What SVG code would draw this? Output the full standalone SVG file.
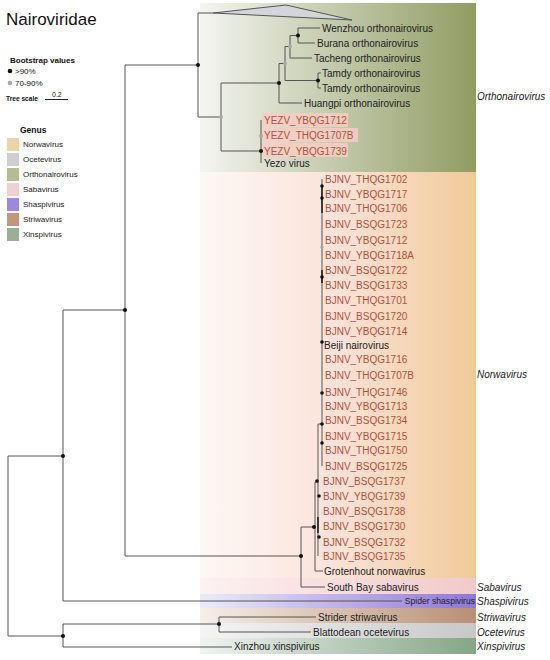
<svg xmlns="http://www.w3.org/2000/svg" width="550" height="660" viewBox="0 0 550 660">
<defs>
<linearGradient id="gOrtho" x1="0" y1="0" x2="1" y2="0"><stop offset="0" stop-color="#f4f5f1"/><stop offset="1" stop-color="#909c62"/></linearGradient>
<linearGradient id="gNorwa" x1="0" y1="0" x2="1" y2="0"><stop offset="0" stop-color="#fdf8f5"/><stop offset="0.5" stop-color="#fbe2d8"/><stop offset="1" stop-color="#efca98"/></linearGradient>
<linearGradient id="gSaba" x1="0" y1="0" x2="1" y2="0"><stop offset="0" stop-color="#fdf1f1"/><stop offset="1" stop-color="#f1c9cb"/></linearGradient>
<linearGradient id="gShas" x1="0" y1="0" x2="1" y2="0"><stop offset="0" stop-color="#ecebfa"/><stop offset="1" stop-color="#8e78d8"/></linearGradient>
<linearGradient id="gStri" x1="0" y1="0" x2="1" y2="0"><stop offset="0" stop-color="#f6efea"/><stop offset="1" stop-color="#b98f74"/></linearGradient>
<linearGradient id="gOcet" x1="0" y1="0" x2="1" y2="0"><stop offset="0" stop-color="#f4f4f4"/><stop offset="1" stop-color="#c8c8c8"/></linearGradient>
<linearGradient id="gXins" x1="0" y1="0" x2="1" y2="0"><stop offset="0" stop-color="#f0f4f0"/><stop offset="1" stop-color="#84a686"/></linearGradient>
<style>
text{font-family:"Liberation Sans",Arial,sans-serif;}
.lf{font-size:10px;fill:#222;}
.lr{font-size:10px;fill:#b0523c;}
.gn{font-size:10px;font-style:italic;fill:#222;}
.lg{font-size:8px;fill:#222;}
.lb{font-size:8px;font-weight:bold;fill:#111;}
.br{fill:none;stroke:#555;stroke-width:1;}
.bd{fill:#111;}
.gd{fill:#aaa;}
.hl{fill:#f6cdc4;opacity:0.85;}
</style>
</defs>
<rect width="550" height="660" fill="#fff"/>
<g id="bands">
<rect x="200" y="3" width="276" height="169" fill="url(#gOrtho)"/>
<rect x="200" y="172" width="276" height="406" fill="url(#gNorwa)"/>
<rect x="200" y="578" width="276" height="16" fill="url(#gSaba)"/>
<rect x="200" y="594" width="276" height="14" fill="url(#gShas)"/>
<rect x="200" y="608" width="276" height="15" fill="url(#gStri)"/>
<rect x="200" y="623" width="276" height="15" fill="url(#gOcet)"/>
<rect x="200" y="638" width="276" height="16" fill="url(#gXins)"/>
<rect class="hl" x="262" y="113" width="86" height="14"/>
<rect class="hl" x="262" y="128" width="96" height="14"/>
<rect class="hl" x="262" y="143" width="86" height="14"/>
</g>
<g id="legend">
<text x="6" y="25" style="font-size:17px;fill:#111">Nairoviridae</text>
<text class="lb" x="10" y="63">Bootstrap values</text>
<circle class="bd" cx="10" cy="71" r="2.3"/><text class="lg" x="15" y="74">&gt;90%</text>
<circle class="gd" cx="10" cy="83" r="2.3"/><text class="lg" x="15" y="86">70-90%</text>
<text class="lb" x="6" y="101" style="font-size:6.6px">Tree scale</text>
<text class="lg" x="52" y="97" style="font-size:7px">0.2</text>
<line x1="45" y1="99.5" x2="68" y2="99.5" stroke="#222" stroke-width="1"/>
<text class="lb" x="20" y="133" style="font-size:8.5px">Genus</text>
<rect x="7" y="138" width="12" height="13" fill="#ecd3a8"/><text class="lg" x="23" y="147">Norwavirus</text>
<rect x="7" y="153" width="12" height="13" fill="#cfcfcf"/><text class="lg" x="23" y="162">Ocetevirus</text>
<rect x="7" y="168" width="12" height="13" fill="#b5bd8e"/><text class="lg" x="23" y="177">Orthonairovirus</text>
<rect x="7" y="183" width="12" height="13" fill="#f0d0d0"/><text class="lg" x="23" y="192">Sabavirus</text>
<rect x="7" y="198" width="12" height="13" fill="#9d88e0"/><text class="lg" x="23" y="207">Shaspivirus</text>
<rect x="7" y="213" width="12" height="13" fill="#c3977c"/><text class="lg" x="23" y="222">Striwavirus</text>
<rect x="7" y="228" width="12" height="13" fill="#98b096"/><text class="lg" x="23" y="237">Xinspivirus</text>
</g>
<g id="connectors">
<path class="br" d="M8,456 V636 M8,456 H63 M8,636 H63"/>
<path class="br" d="M63,310 V601 M63,310 H125 M63,601 H402"/>
<path class="br" d="M63,624 V647 M63,624 H219 M63,647 H232"/>
<path class="br" d="M219,617 V632 M219,617 H316 M219,632 H311"/>
<path class="br" d="M125,65 V556 M125,65 H198 M125,556 H301"/>
<path class="br" d="M198,13 V117 M198,13 H213 M198,117 H221"/>
<polygon points="213,13 286,5 352,20" fill="#d4d5d8" stroke="#555" stroke-width="1"/>
<path class="br" d="M221,83 V151 M221,83 H279 M221,151 H261"/>
<path class="br" d="M279,63.5 V103 M279,63.5 H285 M279,103 H302"/>
<path class="br" d="M285,46.5 V80.5 M285,46.5 H290 M285,80.5 H318"/>
<path class="br" d="M290,35.5 V58 M290,35.5 H298 M290,58 H312"/>
<path class="br" d="M298,28 V43 M298,28 H320 M298,43 H315"/>
<path class="br" d="M318,73 V88 M318,73 H321 M318,88 H321"/>
<path class="br" d="M261,120 V163"/>
<path class="br" d="M301,527 V587 M301,527 H315 M301,587 H325"/>
<path class="br" d="M315,482 V571 M315,482 H318 M315,571 H323"/>
<path class="br" d="M318,424 V556 M318,424 H322"/>
<path class="br" d="M322,179 V466"/>
<path d="M322,187 V213 M322,270 V283 M318,517 V533" stroke="#222" stroke-width="1.6" fill="none"/>
<circle class="bd" cx="63" cy="456" r="2"/>
<circle class="bd" cx="63" cy="636" r="2"/>
<circle class="bd" cx="125" cy="310" r="2"/>
<circle class="bd" cx="219" cy="624" r="2"/>
<circle class="bd" cx="198" cy="65" r="2"/>
<circle class="gd" cx="221" cy="117" r="2"/>
<circle class="bd" cx="279" cy="83" r="2"/>
<circle class="gd" cx="285" cy="63.5" r="2"/>
<circle class="gd" cx="290" cy="46.5" r="2"/>
<circle class="bd" cx="298" cy="35.5" r="2"/>
<circle class="bd" cx="318" cy="80.5" r="2"/>
<circle class="gd" cx="261" cy="136" r="2"/>
<circle class="bd" cx="261" cy="151" r="2"/>
<circle class="bd" cx="301" cy="556" r="2"/>
<circle class="bd" cx="314" cy="527" r="2"/>
<circle class="bd" cx="322" cy="186" r="1.8"/>
<circle class="bd" cx="322" cy="198" r="1.8"/>
<circle class="gd" cx="322" cy="247" r="1.8"/>
<circle class="bd" cx="322" cy="277" r="1.8"/>
<circle class="bd" cx="322" cy="342" r="1.8"/>
<circle class="bd" cx="322" cy="393" r="1.8"/>
<circle class="bd" cx="322" cy="424" r="1.8"/>
<circle class="bd" cx="322" cy="443" r="1.8"/>
<circle class="bd" cx="317" cy="481" r="1.8"/>
<circle class="bd" cx="319" cy="496" r="1.8"/>
<circle class="bd" cx="319" cy="537" r="1.8"/>
</g>
<g id="orthonairovirus">
<text class="lf" x="322" y="31.5">Wenzhou orthonairovirus</text>
<text class="lf" x="317" y="46.5">Burana orthonairovirus</text>
<text class="lf" x="314" y="61.5">Tacheng orthonairovirus</text>
<text class="lf" x="322" y="76.5">Tamdy orthonairovirus</text>
<text class="lf" x="322" y="91.5">Tamdy orthonairovirus</text>
<text class="lf" x="304" y="106.5">Huangpi orthonairovirus</text>
<text class="lr" x="264" y="123.5">YEZV_YBQG1712</text>
<text class="lr" x="264" y="138.5">YEZV_THQG1707B</text>
<text class="lr" x="264" y="154.5">YEZV_YBQG1739</text>
<text class="lf" x="264" y="166.5">Yezo virus</text>
<text class="gn" x="477" y="100">Orthonairovirus</text>
</g>
<g id="norwavirus">
<text class="lr" x="325" y="182.5">BJNV_THQG1702</text>
<text class="lr" x="325" y="197.5">BJNV_YBQG1717</text>
<text class="lr" x="325" y="211.5">BJNV_THQG1706</text>
<text class="lr" x="325" y="227.5">BJNV_BSQG1723</text>
<text class="lr" x="325" y="243.5">BJNV_YBQG1712</text>
<text class="lr" x="325" y="258.5">BJNV_YBQG1718A</text>
<text class="lr" x="325" y="273.5">BJNV_BSQG1722</text>
<text class="lr" x="325" y="288.5">BJNV_BSQG1733</text>
<text class="lr" x="325" y="303.5">BJNV_THQG1701</text>
<text class="lr" x="325" y="319.5">BJNV_BSQG1720</text>
<text class="lr" x="325" y="334.5">BJNV_YBQG1714</text>
<text class="lf" x="324" y="348.5">Beiji nairovirus</text>
<text class="lr" x="325" y="362.5">BJNV_YBQG1716</text>
<text class="lr" x="325" y="378.5">BJNV_THQG1707B</text>
<text class="lr" x="325" y="395.5">BJNV_THQG1746</text>
<text class="lr" x="325" y="409.5">BJNV_YBQG1713</text>
<text class="lr" x="325" y="423.5">BJNV_BSQG1734</text>
<text class="lr" x="325" y="439.5">BJNV_YBQG1715</text>
<text class="lr" x="325" y="453.5">BJNV_THQG1750</text>
<text class="lr" x="325" y="469.5">BJNV_BSQG1725</text>
<text class="lr" x="323" y="484.5">BJNV_BSQG1737</text>
<text class="lr" x="323" y="499.5">BJNV_YBQG1739</text>
<text class="lr" x="323" y="514.5">BJNV_BSQG1738</text>
<text class="lr" x="323" y="529.5">BJNV_BSQG1730</text>
<text class="lr" x="323" y="545.5">BJNV_BSQG1732</text>
<text class="lr" x="323" y="559.5">BJNV_BSQG1735</text>
<text class="lf" x="324" y="574.5">Grotenhout norwavirus</text>
<text class="gn" x="477" y="378">Norwavirus</text>
</g>
<g id="sabavirus">
<text class="lf" x="327" y="590.5">South Bay sabavirus</text>
<text class="gn" x="477" y="590.5">Sabavirus</text>
</g>
<g id="shaspivirus">
<text class="lf" x="475" y="604" text-anchor="end" style="font-size:8.6px">Spider shaspivirus</text>
<text class="gn" x="477" y="604.5">Shaspivirus</text>
</g>
<g id="striwavirus">
<text class="lf" x="318" y="620.5">Strider striwavirus</text>
<text class="gn" x="477" y="620.5">Striwavirus</text>
</g>
<g id="ocetevirus">
<text class="lf" x="313" y="635.5">Blattodean ocetevirus</text>
<text class="gn" x="477" y="635.5">Ocetevirus</text>
</g>
<g id="xinspivirus">
<text class="lf" x="234" y="650">Xinzhou xinspivirus</text>
<text class="gn" x="477" y="650">Xinspivirus</text>
</g>
</svg>
